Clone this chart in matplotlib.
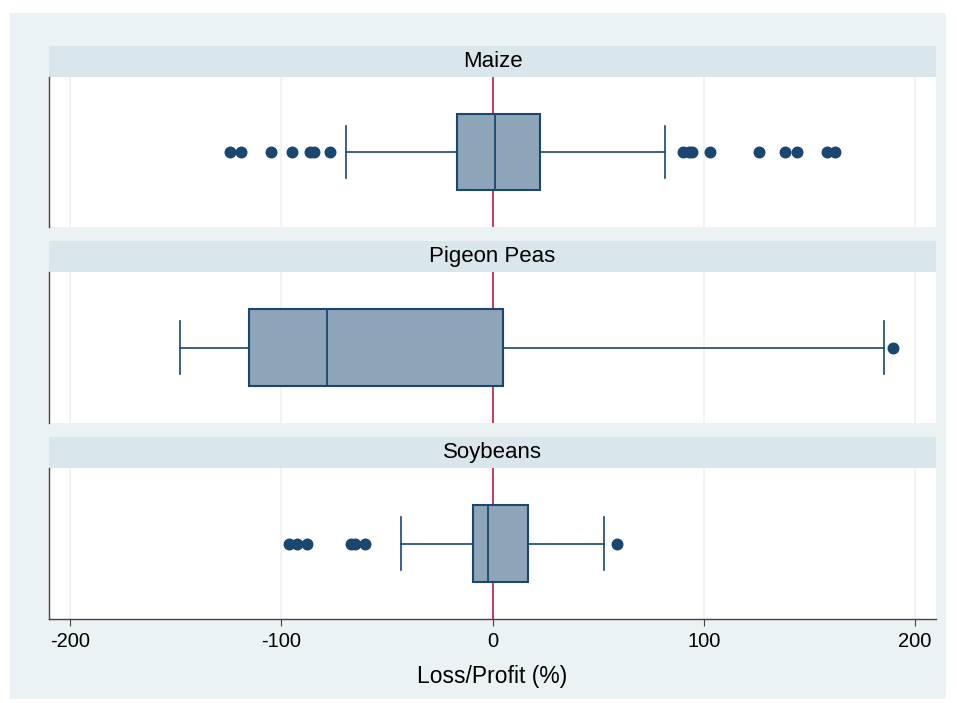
import matplotlib
matplotlib.use("Agg")
import matplotlib.pyplot as plt
from matplotlib.patches import Rectangle

# box statistics (Loss/Profit, %)
crops = ["Maize", "Pigeon Peas", "Soybeans"]
q1 = [-16.7, -115.1, -9.2]
med = [1.4, -78.6, -2.2]
q3 = [22.4, 5.1, 17.0]
whis_lo = [-69.6, -148.2, -43.1]
whis_hi = [81.9, 185.6, 53.0]
outliers = [
    [-124.1, -119.3, -105.1, -94.8, -86.2, -84.3, -77.0,
     90.3, 93.0, 94.6, 102.9, 126.1, 138.7, 144.3, 158.5, 162.4],
    [189.5],
    [-96.4, -92.5, -87.7, -67.2, -64.9, -60.5, 59.0],
]
xticks = [-200, -100, 0, 100, 200]

W, H = 957, 703
NAVY = "#1a476f"
BOXFILL = "#8ea4b8"
OUTER = "#eaf2f3"
STRIP = "#d9e6eb"
GRID = "#edf2f5"
RED = "#c8143c"
plt.rcParams["font.family"] = ["Liberation Sans", "DejaVu Sans"]

fig = plt.figure(figsize=(W / 100, H / 100), dpi=100)
fig.patch.set_facecolor("white")

def px(x0, y0, x1, y1):
    # pixel box (top-left origin) -> figure fraction rect
    return [x0 / W, 1 - y1 / H, (x1 - x0) / W, (y1 - y0) / H]

# outer graph region
fig.patches.append(Rectangle((10 / W, 1 - 699 / H), 936 / W, 686 / H,
                             transform=fig.transFigure, facecolor=OUTER,
                             edgecolor="none", zorder=-2))

# (strip top, panel top, panel bottom) in pixels
rows = [(46, 77, 227), (241, 272, 423), (437, 468, 619)]
L, R = 49, 936

for i, (st, pt, pb) in enumerate(rows):
    fig.patches.append(Rectangle((L / W, 1 - pt / H), (R - L) / W, (pt - st) / H,
                                 transform=fig.transFigure, facecolor=STRIP,
                                 edgecolor="none", zorder=-1))
    fig.text((L + R) / 2 / W, 1 - (st + pt) / 2 / H, crops[i], ha="center",
             va="center", fontsize=16, color="black", zorder=5)

    ax = fig.add_axes(px(L, pt, R, pb))
    ax.set_zorder(2)
    ax.set_facecolor("white")
    ax.set_xlim(-210, 210)
    ax.set_ylim(-1, 1)
    for g in [-200, -100, 100, 200]:
        ax.axvline(g, color=GRID, lw=1.2, zorder=0)
    ax.axvline(0, color=RED, lw=1.2, zorder=1)

    stats = [dict(med=med[i], q1=q1[i], q3=q3[i], whislo=whis_lo[i],
                  whishi=whis_hi[i], fliers=outliers[i])]
    ax.bxp(stats, positions=[0], widths=1.01, orientation="horizontal",
           patch_artist=True, capwidths=0.69, manage_ticks=False,
           boxprops=dict(facecolor=BOXFILL, edgecolor=NAVY, lw=1.5),
           medianprops=dict(color=NAVY, lw=1.3),
           whiskerprops=dict(color=NAVY, lw=1.2),
           capprops=dict(color=NAVY, lw=1.2),
           flierprops=dict(marker="o", markersize=7.6, markerfacecolor=NAVY,
                           markeredgecolor=NAVY))

    for s in ["top", "right", "bottom"]:
        ax.spines[s].set_visible(False)
    ax.spines["left"].set_color("#444444")
    ax.spines["left"].set_linewidth(1.0)
    ax.set_yticks([])
    if i < 2:
        ax.set_xticks([])
    else:
        ax.spines["bottom"].set_visible(True)
        ax.spines["bottom"].set_color("#444444")
        ax.spines["bottom"].set_linewidth(1.0)
        ax.set_xticks(xticks)
        ax.set_xticklabels([str(t) for t in xticks])
        ax.tick_params(axis="x", length=5, width=0.8, color="#444444",
                       labelsize=14.5, pad=4.5)
        ax.set_xlabel("Loss/Profit (%)", fontsize=16.5, labelpad=10)

fig.savefig("out.png", dpi=100, facecolor="white")
